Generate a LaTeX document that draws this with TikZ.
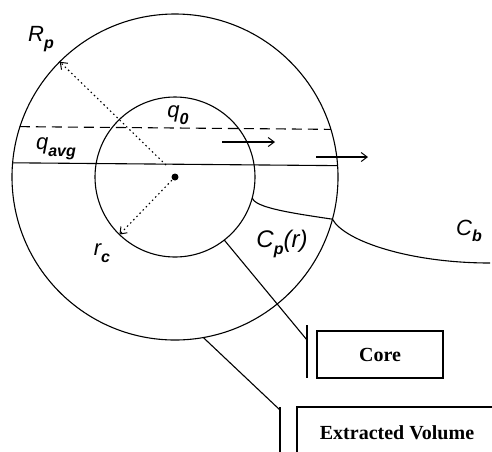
\documentclass[tikz,border=0pt]{standalone}
\usepackage{fontspec}
\usetikzlibrary{arrows.meta}
\newfontfamily\labfont{Liberation Sans}
\newfontfamily\tagfont{Liberation Serif}
\newcommand{\lsub}[1]{\raisebox{-0.3em}{\fontsize{16}{16}\selectfont\bfseries #1}}

\begin{document}
\begin{tikzpicture}[x=1pt, y=-1pt, line width=1.1pt,
    >={Straight Barb[length=6pt, width=9pt, line width=1pt]},
    ring/.style={circle, draw, inner sep=0pt, outer sep=0pt},
    lbl/.style={font=\fontsize{22}{26}\selectfont\labfont\itshape, inner sep=0pt},
    tagbox/.style={draw, inner sep=0pt, font=\fontsize{20}{24}\selectfont\tagfont\bfseries},
    dots/.style={dash pattern=on 1.5pt off 3pt}]
    \useasboundingbox (0,0) rectangle (492,451);
    \clip (0,0) rectangle (492,451);

    \coordinate (c) at (175,177);
    \node[ring, minimum size=326pt] (outer) at (c) {};
    \node[ring, minimum size=160pt] (inner) at (c) {};
    \fill (c) circle (3.5pt);

    % flow lines
    \draw (outer.175.8) -- (outer.4.2);
    \draw[dash pattern=on 10pt off 6pt] (outer.162.5) -- (outer.17.5);
    \coordinate (f1) at (222,142); \coordinate (f2) at (275,142);
    \coordinate (f3) at (316,157); \coordinate (f4) at (368,157);
    \draw[->] (f1) -- (f2);
    \draw[->] (f3) -- (f4);

    % radii
    \coordinate (r0) at (166,165);
    \draw[dots, ->] (r0) -- (outer.135);
    \draw[dots, ->] (c) -- (inner.-134);

    % concentration profile
    \coordinate (cb) at (490,263);
    \draw (inner.-15) .. controls +(2,10) and +(-40,-6) .. (outer.-15.5);
    \draw (outer.-15.5) .. controls +(12,22) and +(-80,0) .. (cb);

    % labels
    \node[lbl] (Rp) at (41,39) {R\lsub{p}};
    \node[lbl] (q0) at (178,115) {q\lsub{0}};
    \node[lbl] (qavg) at (56,149) {q\lsub{avg}};
    \node[lbl] (rc) at (102,253) {r\lsub{c}};
    \node[lbl, font=\fontsize{24}{28}\selectfont\labfont\itshape] (Cp) at (282,244) {C\lsub{p}(r)};
    \node[lbl] (Cb) at (469,231) {C\lsub{b}};

    % legend boxes
    \node[tagbox, minimum width=126pt, minimum height=47pt] (core) at (380,354.5) {Core};
    \node[tagbox, minimum width=200pt, minimum height=52pt] (vol) at (397,433) {Extracted Volume};
    \coordinate (b1) at (307,325); \coordinate (b2) at (307,378); \coordinate (k1) at (307,340);
    \coordinate (b3) at (280,407); \coordinate (b4) at (280,455); \coordinate (k2) at (280,410);
    \draw (b1) -- (b2);
    \draw (b3) -- (b4);
    \draw (inner.-52) -- (k1);
    \draw (outer.-80) -- (k2);
\end{tikzpicture}
\end{document}
